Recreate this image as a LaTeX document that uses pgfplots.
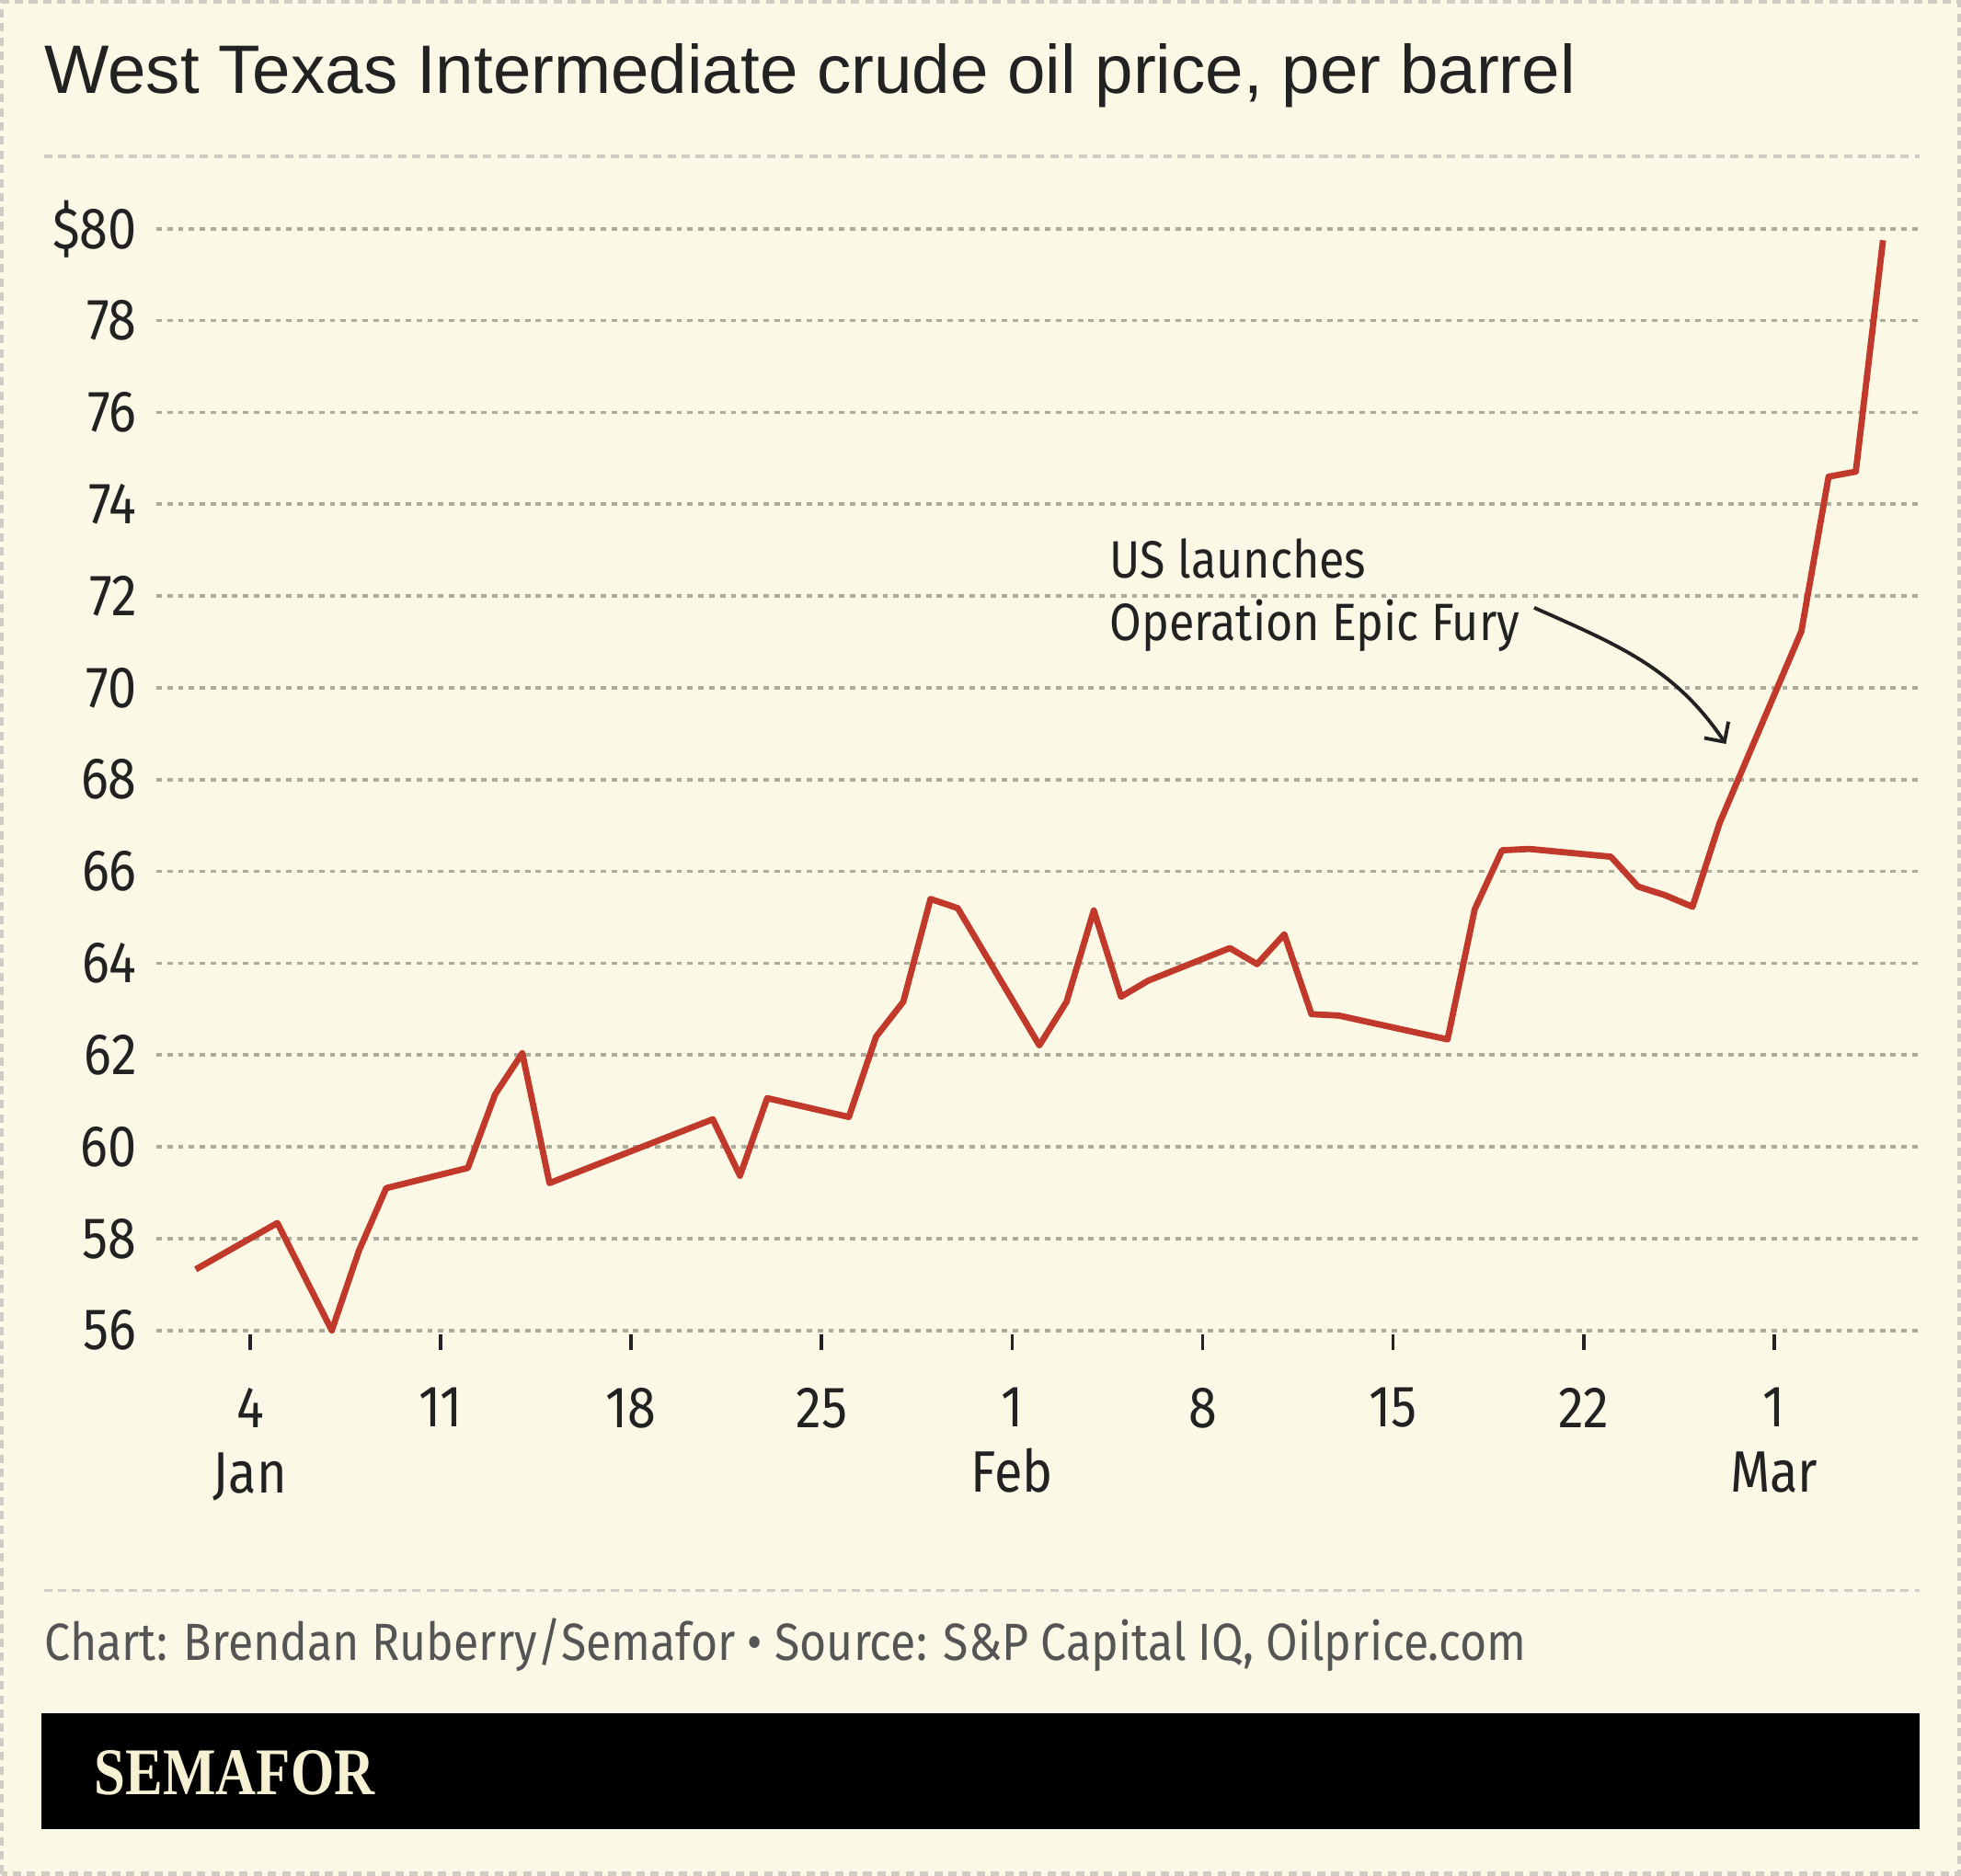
\documentclass[border=0pt]{standalone}
\usepackage{fontspec}
\setmainfont{Fira Sans}[FakeStretch=0.88]
\newfontfamily\titlefont{Liberation Sans}
\newfontfamily\logofont{Liberation Serif}[FakeStretch=0.84]
\usepackage{pgfplots}
\pgfplotsset{compat=1.18}
\usetikzlibrary{arrows.meta}

\definecolor{bgcream}{HTML}{FBF9E6}
\definecolor{gridgray}{HTML}{ADAB9B}
\definecolor{bordergray}{HTML}{CFCDC3}
\definecolor{inkdark}{HTML}{222222}
\definecolor{footgray}{HTML}{555555}
\definecolor{oilred}{HTML}{C0392B}
\definecolor{logocream}{HTML}{F6F1D3}

% WTI daily close; x = day of year 2026 (Jan 1 = 1, Feb 1 = 32, Mar 1 = 60)
\begin{document}
\begin{tikzpicture}
\path[use as bounding box, fill=bgcream] (0,0) rectangle (470.4pt,450pt);
\draw[bordergray, line width=0.9pt, dash pattern=on 2pt off 1.4pt]
  (0.45pt,0.45pt) rectangle (469.95pt,449.55pt);
% title
\node[anchor=base west, inner sep=0pt, text=inkdark]
  at (10.5pt,427.5pt) {\titlefont\fontsize{16.45}{18}\selectfont West Texas Intermediate crude oil price, per barrel};
% separators
\draw[bordergray, line width=0.7pt, dash pattern=on 2pt off 1.4pt] (10.5pt,412.5pt) -- (460.5pt,412.5pt);
\draw[bordergray, line width=0.7pt, dash pattern=on 2pt off 1.4pt] (10.5pt,68.4pt) -- (460.5pt,68.4pt);

\begin{axis}[
  at={(37.5pt,130.8pt)}, anchor=south west,
  scale only axis, width=423pt, height=264.3pt,
  xmin=0.553, xmax=65.35, ymin=56, ymax=80,
  clip=false,
  axis line style={draw=none},
  ymajorgrids,
  grid style={gridgray, line width=0.8pt, dash pattern=on 1.3pt off 1.3pt},
  ytick={56,58,...,80},
  yticklabels={56,58,60,62,64,66,68,70,72,74,76,78,\$80},
  ytick style={draw=none},
  yticklabel style={anchor=east, inner sep=0pt, xshift=-4.5pt, text=inkdark},
  xtick={4,11,18,25,32,39,46,53,60},
  xticklabels={{4\\Jan},11,18,25,{1\\Feb},8,15,22,{1\\Mar}},
  xtick pos=lower,
  xtick align=outside,
  major tick length=3.6pt,
  xtick style={inkdark, line width=0.8pt, yshift=-1pt},
  xticklabel style={anchor=north, align=center, inner sep=0pt, yshift=-10pt, text=inkdark,
    font=\fontsize{14}{15.6}\selectfont},
  tick label style={font=\fontsize{14}{15.6}\selectfont},
]
\addplot[oilred, line width=1.5pt, line join=round] coordinates {
  (2,57.33) (5,58.34) (7,56.00) (8,57.74) (9,59.10) (12,59.54) (13,61.14)
  (14,62.04) (15,59.21) (21,60.60) (22,59.37) (23,61.06) (26,60.65) (27,62.40)
  (28,63.16) (29,65.40) (30,65.20) (33,62.21) (34,63.16) (35,65.15) (36,63.27)
  (37,63.62) (40,64.33) (41,63.98) (42,64.63) (43,62.89) (44,62.86) (48,62.34)
  (49,65.18) (50,66.46) (51,66.49) (54,66.32) (55,65.67) (56,65.48) (57,65.23)
  (58,67.06) (61,71.23) (62,74.60) (63,74.71) (64,79.75)
};
\end{axis}

% annotation
\node[anchor=base west, inner sep=0pt, text=inkdark]
  at (266.1pt,311.4pt) {\fontsize{12.6}{15}\selectfont US launches};
\node[anchor=base west, inner sep=0pt, text=inkdark]
  at (266.1pt,296.4pt) {\fontsize{12.6}{15}\selectfont Operation Epic Fury};
\draw[inkdark, line width=0.85pt, -{Straight Barb[length=3.5pt,width=7pt]}]
  (368pt,304.2pt) to[out=-24, in=124] (414pt,271.5pt);

% footer
\node[anchor=base west, inner sep=0pt, text=footgray]
  at (10.5pt,51.6pt) {\fontsize{12.55}{15.6}\selectfont Chart: Brendan Ruberry/Semafor \textbullet\ Source: S\&P Capital IQ, Oilprice.com};
\fill[black] (9.9pt,11.1pt) rectangle (460.5pt,39pt);
\node[anchor=base west, inner sep=0pt, text=logocream]
  at (22.5pt,19.4pt) {\logofont\bfseries\fontsize{16}{18}\selectfont SEMAFOR};
\end{tikzpicture}
\end{document}
